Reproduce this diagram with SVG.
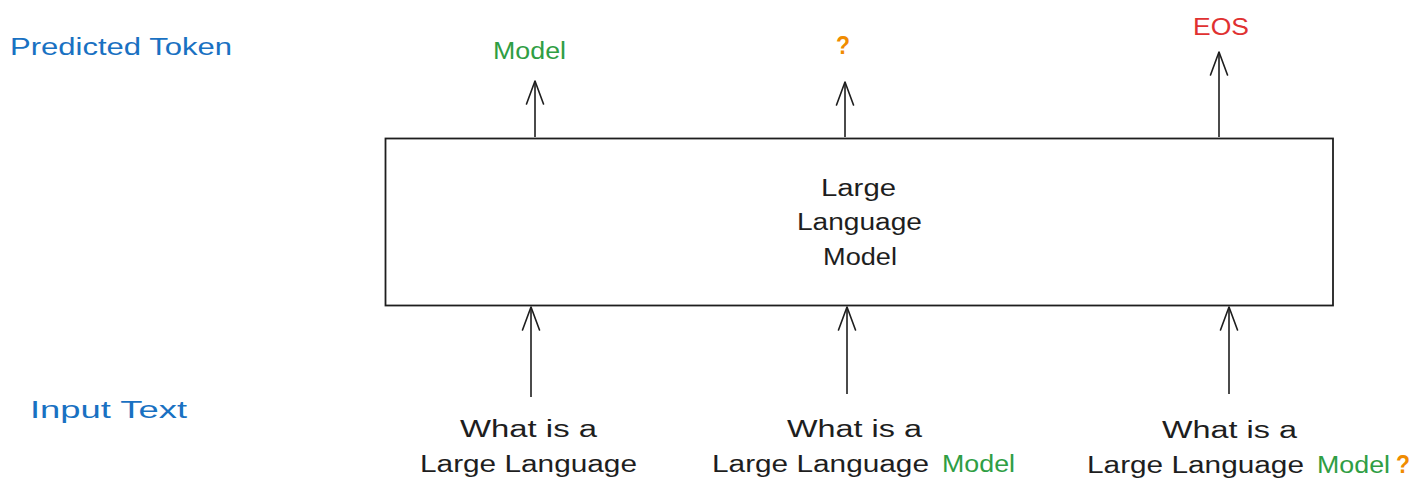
<svg xmlns="http://www.w3.org/2000/svg" width="1419" height="495" viewBox="0 0 1419 495">
<style>
text{font-family:"Liberation Sans",Arial,sans-serif;font-size:23px;fill:#1e1e1e}
.blue{fill:#1971c2}
.green{fill:#2f9e44}
.orange{fill:#f08c00}
.q{font-size:26px;font-weight:bold}
.red{fill:#e03131}
.conn line{stroke:#1e1e1e;stroke-width:1.6;fill:none}
</style>
<defs>
<marker id="ah" markerUnits="userSpaceOnUse" viewBox="-26 -12 28 24" refX="0" refY="0" markerWidth="28" markerHeight="24" orient="auto">
<path d="M-23 -8.5 L0 0 L-23 8.5" fill="none" stroke="#1e1e1e" stroke-width="1.6" stroke-linecap="round" stroke-linejoin="round"/>
</marker>
</defs>
<rect width="1419" height="495" fill="#ffffff"/>
<g id="label-predicted"><text class="blue" x="10" y="55" textLength="222" lengthAdjust="spacingAndGlyphs">Predicted Token</text></g>
<g id="label-input"><text class="blue" x="30" y="418" textLength="157" lengthAdjust="spacingAndGlyphs">Input Text</text></g>
<g id="out-model"><text class="green" x="493" y="59" textLength="73" lengthAdjust="spacingAndGlyphs">Model</text></g>
<g id="out-q"><text class="orange q" x="836" y="54" textLength="14" lengthAdjust="spacingAndGlyphs">?</text></g>
<g id="out-eos"><text class="red" x="1193" y="35" textLength="56" lengthAdjust="spacingAndGlyphs">EOS</text></g>
<g id="llm">
<rect x="385.5" y="138.5" width="947.5" height="167" fill="#ffffff" stroke="#1e1e1e" stroke-width="1.8"/>
<text x="821" y="196" textLength="75" lengthAdjust="spacingAndGlyphs">Large</text>
<text x="797" y="230" textLength="125" lengthAdjust="spacingAndGlyphs">Language</text>
<text x="823" y="265" textLength="74" lengthAdjust="spacingAndGlyphs">Model</text>
</g>
<g id="in-1">
<text x="460" y="437" textLength="137" lengthAdjust="spacingAndGlyphs">What is a</text>
<text x="420" y="472" textLength="217" lengthAdjust="spacingAndGlyphs">Large Language</text>
</g>
<g id="in-2">
<text x="787" y="437" textLength="135" lengthAdjust="spacingAndGlyphs">What is a</text>
<text x="712" y="472" textLength="217" lengthAdjust="spacingAndGlyphs">Large Language</text>
<text class="green" x="942" y="472" textLength="73" lengthAdjust="spacingAndGlyphs">Model</text>
</g>
<g id="in-3">
<text x="1162" y="438" textLength="135" lengthAdjust="spacingAndGlyphs">What is a</text>
<text x="1087" y="473" textLength="217" lengthAdjust="spacingAndGlyphs">Large Language</text>
<text class="green" x="1317" y="473" textLength="73" lengthAdjust="spacingAndGlyphs">Model</text>
<text class="orange q" x="1396" y="473" textLength="14" lengthAdjust="spacingAndGlyphs">?</text>
</g>
<g id="connectors" class="conn">
<line x1="535" y1="137" x2="535" y2="81" marker-end="url(#ah)"/>
<line x1="845" y1="137" x2="845" y2="82" marker-end="url(#ah)"/>
<line x1="1219" y1="137" x2="1219" y2="52" marker-end="url(#ah)"/>
<line x1="531" y1="397" x2="531" y2="307" marker-end="url(#ah)"/>
<line x1="847" y1="394" x2="847" y2="307" marker-end="url(#ah)"/>
<line x1="1229" y1="394" x2="1229" y2="307" marker-end="url(#ah)"/>
</g>
</svg>
